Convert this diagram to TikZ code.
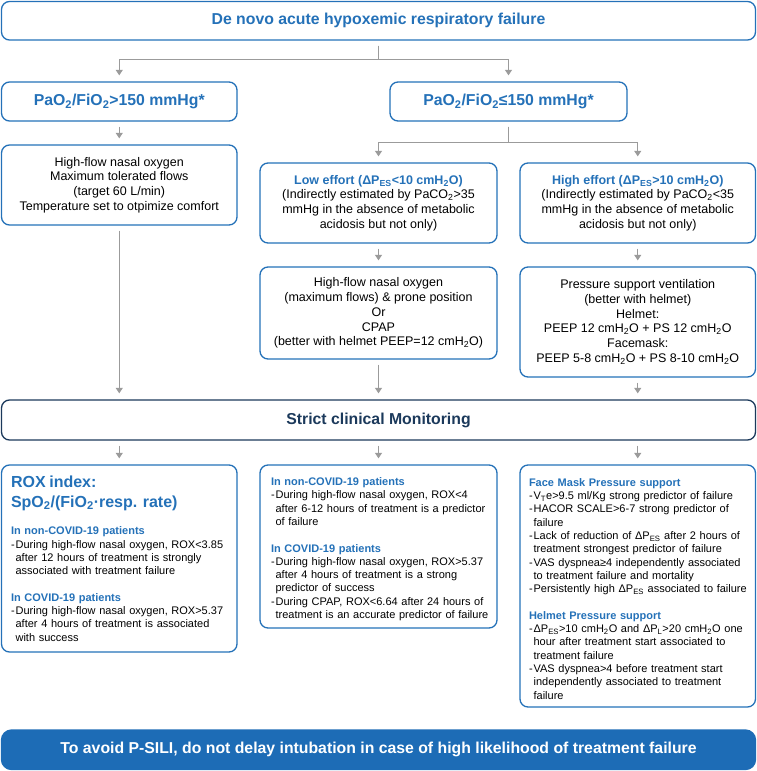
\documentclass[tikz,border=0pt]{standalone}
\usepackage{fontspec}
\setmainfont{Liberation Sans}
\usetikzlibrary{arrows.meta}
\definecolor{boxblue}{RGB}{36,113,184}
\definecolor{navy}{RGB}{27,57,91}
\definecolor{fillblue}{RGB}{29,108,182}
\definecolor{arrowgray}{RGB}{155,155,155}
\setlength\parindent{0pt}
\hyphenpenalty=10000
\exhyphenpenalty=10000
\newcommand\cmh{cmH\textsubscript{2}O}
\newcommand\dpes{ΔP\textsubscript{ES}}
\newcommand\hd[1]{\par\leftskip=6.5pt\noindent{\bfseries\color{boxblue}#1}\par}
\newcommand\bul[1]{\par\leftskip=6.5pt\hangindent=4.6pt\hangafter=1\noindent\makebox[4.6pt][l]{-}#1\par}

\begin{document}
\begin{tikzpicture}[x=1pt,y=-1pt,
    box/.style={draw=boxblue,line width=1.3pt,rounded corners=8pt,inner sep=0pt,align=center,font=\fontsize{12.5}{14.8}\selectfont},
    head/.style={box,text=boxblue,font=\fontsize{15.8}{18}\selectfont\bfseries},
    note/.style={box,align=left,font=\fontsize{11}{13.3}\selectfont},
    conn/.style={-{Triangle[width=7pt,length=5.5pt]},line width=1pt,draw=arrowgray,shorten <=5pt,shorten >=6pt}
    ]
    \useasboundingbox (0,0) rectangle (757,771);

    % first row
    \node[head,minimum width=754pt,minimum height=38.5pt] (top) at (378.5,20.75) {De novo acute hypoxemic respiratory failure};
    \node[head,minimum width=235.5pt,minimum height=39pt] (pA) at (119.25,101.5) {PaO\textsubscript{2}/FiO\textsubscript{2}>150 mmHg*};
    \node[head,minimum width=237pt,minimum height=39pt] (pB) at (508.5,101.5) {PaO\textsubscript{2}/FiO\textsubscript{2}≤150 mmHg*};

    % treatments
    \node[box,minimum width=235.5pt,minimum height=80pt] (hfnoA) at (119.25,185) {High-flow nasal oxygen\\Maximum tolerated flows\\(target 60 L/min)\\Temperature set to otpimize comfort};
    \node[box,minimum width=237pt,minimum height=80pt] (low) at (378.5,203) {{\bfseries\color{boxblue}Low effort (\dpes<10 \cmh)}\\(Indirectly estimated by PaCO\textsubscript{2}>35\\mmHg in the absence of metabolic\\acidosis but not only)};
    \node[box,minimum width=235.5pt,minimum height=80pt] (high) at (637.75,203) {{\bfseries\color{boxblue}High effort (\dpes>10 \cmh)}\\(Indirectly estimated by PaCO\textsubscript{2}<35\\mmHg in the absence of metabolic\\acidosis but not only)};
    \node[box,minimum width=237pt,minimum height=92pt] (hfnoB) at (378.5,313) {High-flow nasal oxygen\\(maximum flows) \& prone position\\Or\\CPAP\\(better with helmet PEEP=12 \cmh)};
    \node[box,minimum width=235.5pt,minimum height=110pt] (psv) at (637.75,322) {Pressure support ventilation\\(better with helmet)\\Helmet:\\PEEP 12 \cmh{} + PS 12 \cmh\\Facemask:\\PEEP 5-8 \cmh{} + PS 8-10 \cmh};

    \node[head,draw=navy,text=navy,minimum width=754pt,minimum height=40pt] (strict) at (378.5,420) {Strict clinical Monitoring};

    % monitoring
    \node[note,minimum width=235.5pt,minimum height=187pt,text width=229.5pt] (rox) at (119.25,558.5) {%
      {\leftskip=6.5pt\fontsize{16}{20}\selectfont\bfseries\color{boxblue}ROX index:\\SpO\textsubscript{2}/(FiO\textsubscript{2}·resp. rate)\par}
      \vspace{14pt}
      \hd{In non-COVID-19 patients}
      \bul{During high-flow nasal oxygen, ROX<3.85\newline after 12 hours of treatment is strongly\newline associated with treatment failure}
      \vspace{13.3pt}
      \hd{In COVID-19 patients}
      \bul{During high-flow nasal oxygen, ROX>5.37\newline after 4 hours of treatment is associated\newline with success}};
    \node[note,minimum width=237pt,minimum height=163pt,text width=228pt] (mid) at (378.5,546.5) {%
      \hd{In non-COVID-19 patients}
      \bul{During high-flow nasal oxygen, ROX<4\newline after 6-12 hours of treatment is a predictor\newline of failure}
      \vspace{13.3pt}
      \hd{In COVID-19 patients}
      \bul{During high-flow nasal oxygen, ROX>5.37\newline after 4 hours of treatment is a strong\newline predictor of success}
      \bul{During CPAP, ROX<6.64 after 24 hours of\newline treatment is an accurate predictor of failure}};
    \node[note,minimum width=235.5pt,minimum height=242pt,text width=230.5pt] (face) at (637.75,586) {%
      \hd{Face Mask Pressure support}
      \bul{V\textsubscript{T}e>9.5 ml/Kg strong predictor of failure}
      \bul{HACOR SCALE>6-7 strong predictor of\newline failure}
      \bul{Lack of reduction of \dpes{} after 2 hours of\newline treatment strongest predictor of failure}
      \bul{VAS dyspnea≥4 independently associated\newline to treatment failure and mortality}
      \bul{Persistently high \dpes{} associated to failure}
      \vspace{13.3pt}
      \hd{Helmet Pressure support}
      \bul{\dpes>10 \cmh{} and ΔP\textsubscript{L}>20 \cmh{} one\newline hour after treatment start associated to\newline treatment failure}
      \bul{VAS dyspnea>4 before treatment start\newline independently associated to treatment\newline failure}};

    \node[box,draw=fillblue,fill=fillblue,text=white,font=\fontsize{15.8}{18}\selectfont\bfseries,rounded corners=10pt,minimum width=754pt,minimum height=39.5pt] (sili) at (378.5,749.75) {To avoid P-SILI, do not delay intubation in case of high likelihood of treatment failure};

    \draw[conn] (top.south) -- ++(0,19) -| (pA.north);
    \draw[conn] (top.south) -- ++(0,19) -| (pB.north);
    \draw[conn] (pA) -- (hfnoA);
    \draw[conn] (pB.south) -- ++(0,21) -| (low.north);
    \draw[conn] (pB.south) -- ++(0,21) -| (high.north);
    \draw[conn] (low) -- (hfnoB);
    \draw[conn] (high) -- (psv);

    \draw[conn] (hfnoA.south) -- (hfnoA.south |- strict.north);
    \draw[conn] (hfnoB.south) -- (hfnoB.south |- strict.north);
    \draw[conn] (psv.south) -- (psv.south |- strict.north);

    \draw[conn] (rox.north |- strict.south) -- (rox.north);
    \draw[conn] (mid.north |- strict.south) -- (mid.north);
    \draw[conn] (face.north |- strict.south) -- (face.north);

  \end{tikzpicture}
\end{document}
